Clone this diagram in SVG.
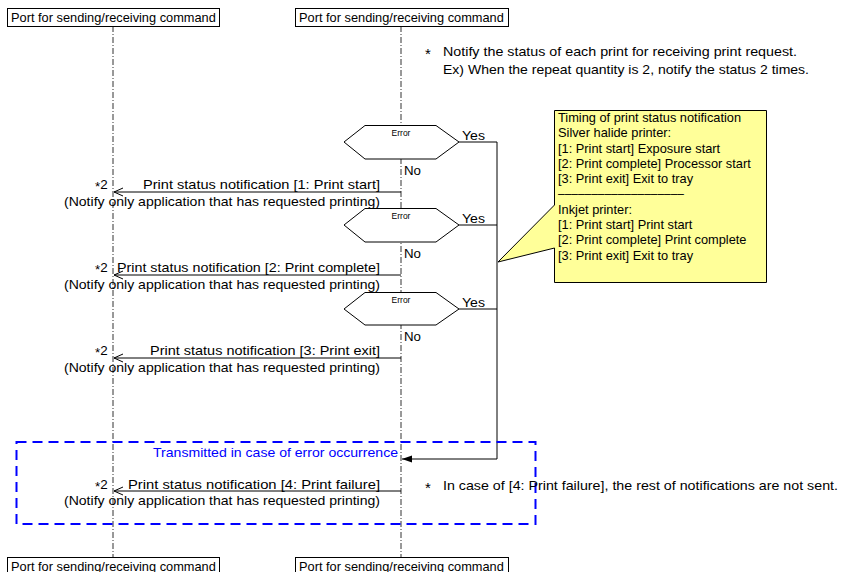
<svg xmlns="http://www.w3.org/2000/svg" width="851" height="572" viewBox="0 0 851 572">
  <style>
    text { font-family: "Liberation Sans", Arial, sans-serif; font-size: 12.8px; fill: #000; }
    .t { font-size: 13.4px; }
    .ast { font-size: 15px; }
    .port rect { fill: #fff; stroke: #000; stroke-width: 1; }
    .life { stroke: #333; stroke-width: 1; stroke-dasharray: 6 2 1 2; fill: none; }
    .hex { fill: #fff; stroke: #000; stroke-width: 1; }
    .small { font-size: 8.5px; }
    .msg { stroke: #000; stroke-width: 1; fill: none; marker-end: url(#open); }
    .yes { stroke: #000; stroke-width: 1; fill: none; }
    .blue { fill: #0000ff; }
  </style>
  <defs>
    <marker id="open" viewBox="0 0 10 10" refX="10" refY="5" markerWidth="10" markerHeight="10" markerUnits="userSpaceOnUse" orient="auto">
      <path d="M1,1 L10,5 L1,9" fill="none" stroke="#000" stroke-width="1"/>
    </marker>
    <marker id="filled" viewBox="0 0 10 10" refX="10" refY="5" markerWidth="10" markerHeight="10" markerUnits="userSpaceOnUse" orient="auto">
      <path d="M0,1.5 L10,5 L0,8.5 Z" fill="#000"/>
    </marker>
  </defs>

  <rect width="851" height="572" fill="#fff"/>

  <!-- lifelines -->
  <g id="lifelines">
    <line class="life" x1="113" y1="26" x2="113" y2="557"/>
    <line class="life" x1="401" y1="26" x2="401" y2="557"/>
  </g>

  <!-- port boxes -->
  <g id="port-left-top" class="port">
    <rect x="7.5" y="8.5" width="212" height="18"/>
    <text x="11" y="22">Port for sending/receiving command</text>
  </g>
  <g id="port-right-top" class="port">
    <rect x="295.5" y="8.5" width="213" height="18"/>
    <text x="299" y="22">Port for sending/receiving command</text>
  </g>
  <g id="port-left-bottom" class="port">
    <rect x="7.5" y="557.5" width="212" height="18"/>
    <text x="11" y="571">Port for sending/receiving command</text>
  </g>
  <g id="port-right-bottom" class="port">
    <rect x="295.5" y="557.5" width="213" height="18"/>
    <text x="299" y="571">Port for sending/receiving command</text>
  </g>

  <!-- notes -->
  <g id="note-top">
    <text class="ast" x="425" y="59">*</text>
    <text class="t" x="443" y="56" textLength="354" lengthAdjust="spacingAndGlyphs">Notify the status of each print for receiving print request.</text>
    <text class="t" x="443" y="74" textLength="366" lengthAdjust="spacingAndGlyphs">Ex) When the repeat quantity is 2, notify the status 2 times.</text>
  </g>

  <!-- connectors -->
  <g id="connectors">
    <polyline class="yes" points="459,142 497,142"/>
    <polyline class="yes" points="459,225 497,225"/>
    <polyline class="yes" points="459,309 497,309"/>
    <polyline class="yes" points="497,142 497,459 402,459" marker-end="url(#filled)"/>
    <line class="msg" x1="401" y1="192" x2="114" y2="192"/>
    <line class="msg" x1="401" y1="275" x2="114" y2="275"/>
    <line class="msg" x1="401" y1="358" x2="114" y2="358"/>
    <line class="msg" x1="401" y1="491" x2="114" y2="491"/>
  </g>

  <!-- decisions -->
  <g id="decision-1">
    <polygon class="hex" points="344,142 365,125.5 436,125.5 459,142 436,159 365,159"/>
    <text class="small" x="401" y="136" text-anchor="middle">Error</text>
    <text class="t" x="462" y="140" textLength="23" lengthAdjust="spacingAndGlyphs">Yes</text>
    <text class="t" x="404" y="175" textLength="17" lengthAdjust="spacingAndGlyphs">No</text>
  </g>
  <g id="decision-2">
    <polygon class="hex" points="344,225 365,208.5 436,208.5 459,225 436,242 365,242"/>
    <text class="small" x="401" y="219" text-anchor="middle">Error</text>
    <text class="t" x="462" y="223" textLength="23" lengthAdjust="spacingAndGlyphs">Yes</text>
    <text class="t" x="404" y="258" textLength="17" lengthAdjust="spacingAndGlyphs">No</text>
  </g>
  <g id="decision-3">
    <polygon class="hex" points="344,309 365,292.5 436,292.5 459,309 436,325 365,325"/>
    <text class="small" x="401" y="303" text-anchor="middle">Error</text>
    <text class="t" x="462" y="307" textLength="23" lengthAdjust="spacingAndGlyphs">Yes</text>
    <text class="t" x="404" y="341" textLength="17" lengthAdjust="spacingAndGlyphs">No</text>
  </g>

  <!-- messages -->
  <g id="msg-1">
    <text class="t" x="143" y="189" textLength="237" lengthAdjust="spacingAndGlyphs">Print status notification [1: Print start]</text>
    <text class="t" x="95" y="189"><tspan dy="2">*</tspan><tspan dy="-2">2</tspan></text>
    <text class="t" x="64" y="206" textLength="316" lengthAdjust="spacingAndGlyphs">(Notify only application that has requested printing)</text>
  </g>
  <g id="msg-2">
    <text class="t" x="117" y="272" textLength="263" lengthAdjust="spacingAndGlyphs">Print status notification [2: Print complete]</text>
    <text class="t" x="95" y="272"><tspan dy="2">*</tspan><tspan dy="-2">2</tspan></text>
    <text class="t" x="64" y="289" textLength="316" lengthAdjust="spacingAndGlyphs">(Notify only application that has requested printing)</text>
  </g>
  <g id="msg-3">
    <text class="t" x="150" y="355" textLength="230" lengthAdjust="spacingAndGlyphs">Print status notification [3: Print exit]</text>
    <text class="t" x="95" y="355"><tspan dy="2">*</tspan><tspan dy="-2">2</tspan></text>
    <text class="t" x="64" y="372" textLength="316" lengthAdjust="spacingAndGlyphs">(Notify only application that has requested printing)</text>
  </g>

  <!-- error region -->
  <g id="error-region">
    <rect x="16.5" y="442" width="519" height="82" fill="none" stroke="#0000ff" stroke-width="2" stroke-dasharray="10 6"/>
    <text class="t blue" x="153" y="457" textLength="245" lengthAdjust="spacingAndGlyphs">Transmitted in case of error occurrence</text>
  </g>
  <g id="msg-4">
    <text class="t" x="128" y="489" textLength="252" lengthAdjust="spacingAndGlyphs">Print status notification [4: Print failure]</text>
    <text class="t" x="95" y="489"><tspan dy="2">*</tspan><tspan dy="-2">2</tspan></text>
    <text class="t" x="64" y="505" textLength="316" lengthAdjust="spacingAndGlyphs">(Notify only application that has requested printing)</text>
  </g>
  <g id="note-failure">
    <text class="ast" x="425" y="493">*</text>
    <text class="t" x="443" y="490" textLength="395" lengthAdjust="spacingAndGlyphs">In case of [4: Print failure], the rest of notifications are not sent.</text>
  </g>

  <!-- timing callout -->
  <g id="timing-note">
    <path d="M554.5,110.5 H766.5 V282.5 H554.5 V248 L498,262 L554.5,205 Z" fill="#ffff99" stroke="#000" stroke-width="1"/>
    <text x="558" y="122">Timing of print status notification</text>
    <text x="558" y="137">Silver halide printer:</text>
    <text x="558" y="153">[1: Print start] Exposure start</text>
    <text x="558" y="168">[2: Print complete] Processor start</text>
    <text x="558" y="183">[3: Print exit] Exit to tray</text>
    <text x="558" y="198" textLength="126" lengthAdjust="spacingAndGlyphs">–––––––––––––––––––</text>
    <text x="558" y="214">Inkjet printer:</text>
    <text x="558" y="229">[1: Print start] Print start</text>
    <text x="558" y="244">[2: Print complete] Print complete</text>
    <text x="558" y="260">[3: Print exit] Exit to tray</text>
  </g>
</svg>
